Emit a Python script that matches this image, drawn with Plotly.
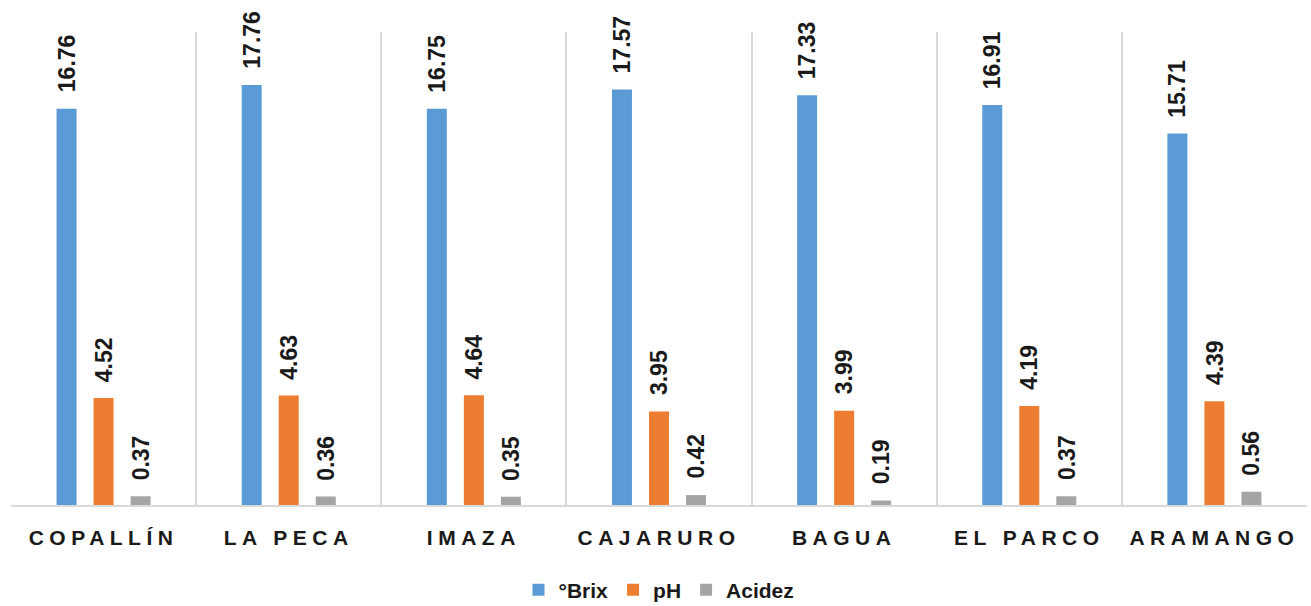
import plotly.graph_objects as go

categories = ["COPALLÍN", "LA PECA", "IMAZA", "CAJARURO", "BAGUA", "EL PARCO", "ARAMANGO"]
brix = [16.76, 17.76, 16.75, 17.57, 17.33, 16.91, 15.71]
ph = [4.52, 4.63, 4.64, 3.95, 3.99, 4.19, 4.39]
acidez = [0.37, 0.36, 0.35, 0.42, 0.19, 0.37, 0.56]

series = [
    ("°Brix", brix, "#5B9BD5"),
    ("pH", ph, "#ED7D31"),
    ("Acidez", acidez, "#A5A5A5"),
]

FONT = "Liberation Sans, Arial, sans-serif"

fig = go.Figure()
for name, vals, color in series:
    fig.add_trace(go.Bar(
        x=categories, y=vals, name=f"<b>{name}</b>",
        marker=dict(color=color, line=dict(width=0)),
    ))

# value labels, rotated, above each bar
annotations = []
for i, (name, vals, color) in enumerate(series):
    for j, v in enumerate(vals):
        annotations.append(dict(
            x=j + (i - 1) * 0.2, y=v, xref="x", yref="y",
            text=f"<b>{v:.2f}</b>", showarrow=False, textangle=-90,
            xanchor="center", yanchor="bottom", yshift=14,
            font=dict(family=FONT, size=23, color="#1a1a1a"),
        ))

ticktext = [f'<span style="letter-spacing:5.5px"><b>{c}</b></span>' for c in categories]

fig.update_layout(
    width=1311, height=606,
    margin=dict(l=11, r=4, t=32, b=101),
    paper_bgcolor="white", plot_bgcolor="white",
    barmode="group", bargap=0.4, bargroupgap=0.46,
    annotations=annotations,
    showlegend=True,
    legend=dict(
        orientation="h", x=0.5, xanchor="center",
        yref="container", y=1 - 590 / 606, yanchor="middle",
        font=dict(family=FONT, size=21, color="#1a1a1a"),
        itemwidth=30, traceorder="normal",
    ),
    xaxis=dict(
        tickmode="array", tickvals=categories, ticktext=ticktext,
        tickson="boundaries", showgrid=True, gridcolor="#D9D9D9", gridwidth=1.5,
        showline=True, linecolor="#D9D9D9", linewidth=1.5,
        ticks="", ticklabelstandoff=13,
        tickfont=dict(family=FONT, size=21, color="#1a1a1a"),
        range=[-0.5, 6.5],
    ),
    yaxis=dict(
        range=[0, 20], showgrid=False, zeroline=False, showticklabels=False,
        showline=False,
    ),
)

fig.write_html("out.html")
